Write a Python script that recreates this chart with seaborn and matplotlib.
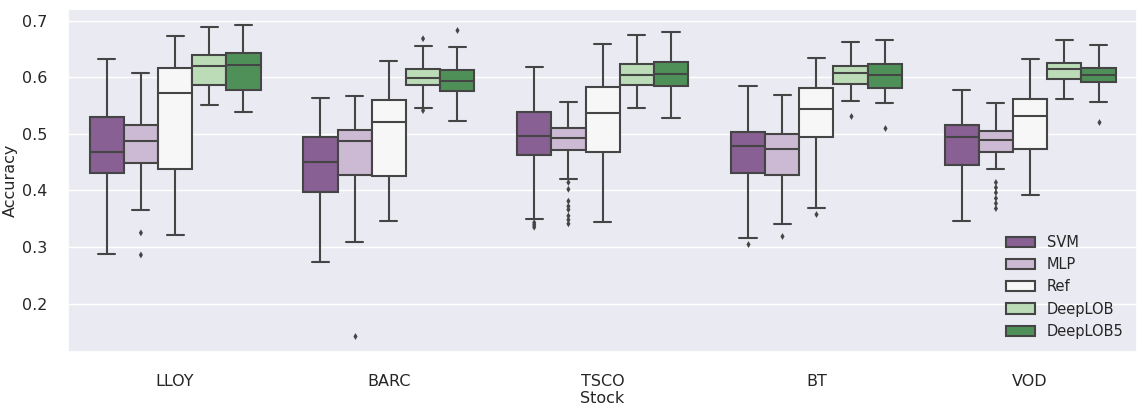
import matplotlib
matplotlib.use("Agg")
import matplotlib.pyplot as plt
import seaborn as sns
import pandas as pd

stocks = ["LLOY", "BARC", "TSCO", "BT", "VOD"]
models = ["SVM", "MLP", "Ref", "DeepLOB", "DeepLOB5"]

# per stock: [lower whisker, Q1, median, Q3, upper whisker]
svm = [[0.287, 0.430, 0.467, 0.530, 0.632],
       [0.274, 0.397, 0.450, 0.494, 0.564],
       [0.349, 0.462, 0.497, 0.538, 0.618],
       [0.316, 0.430, 0.478, 0.504, 0.584],
       [0.346, 0.445, 0.495, 0.516, 0.578]]
mlp = [[0.366, 0.449, 0.488, 0.516, 0.607],
       [0.308, 0.427, 0.487, 0.507, 0.567],
       [0.421, 0.472, 0.492, 0.511, 0.556],
       [0.340, 0.427, 0.473, 0.499, 0.568],
       [0.437, 0.468, 0.489, 0.505, 0.554]]
ref = [[0.321, 0.437, 0.572, 0.616, 0.672],
       [0.346, 0.426, 0.521, 0.559, 0.629],
       [0.344, 0.467, 0.537, 0.582, 0.658],
       [0.369, 0.495, 0.544, 0.581, 0.634],
       [0.392, 0.473, 0.532, 0.562, 0.632]]
deeplob = [[0.551, 0.587, 0.619, 0.640, 0.688],
           [0.546, 0.587, 0.599, 0.614, 0.655],
           [0.546, 0.586, 0.604, 0.623, 0.675],
           [0.558, 0.588, 0.607, 0.620, 0.663],
           [0.561, 0.597, 0.615, 0.625, 0.665]]
deeplob5 = [[0.538, 0.577, 0.621, 0.643, 0.693],
            [0.522, 0.575, 0.593, 0.613, 0.654],
            [0.528, 0.584, 0.605, 0.626, 0.679],
            [0.554, 0.581, 0.604, 0.623, 0.665],
            [0.556, 0.591, 0.604, 0.617, 0.656]]

# outliers
out_stock = (["TSCO"] * 3 + ["BT"]
             + ["LLOY"] * 2 + ["BARC"] + ["TSCO"] * 8 + ["BT"] + ["VOD"] * 6
             + ["BT"]
             + ["BARC"] * 2 + ["BT"]
             + ["BARC", "BT", "VOD"])
out_model = (["SVM"] * 4 + ["MLP"] * 18 + ["Ref"] + ["DeepLOB"] * 3 + ["DeepLOB5"] * 3)
out_value = ([0.343, 0.339, 0.335, 0.305]
             + [0.325, 0.286, 0.142,
                0.414, 0.402, 0.381, 0.372, 0.366, 0.355, 0.348, 0.341,
                0.319,
                0.414, 0.405, 0.396, 0.386, 0.377, 0.368]
             + [0.358]
             + [0.668, 0.541, 0.531]
             + [0.684, 0.510, 0.520])

rows = []
for name, stats in zip(models, [svm, mlp, ref, deeplob, deeplob5]):
    for stock, vals in zip(stocks, stats):
        for v in vals:
            rows.append((stock, name, v))
df = pd.DataFrame(rows, columns=["Stock", "Model", "Accuracy"])
out_df = pd.DataFrame({"Stock": out_stock, "Model": out_model, "Accuracy": out_value})

sns.set_theme(style="darkgrid")
fig = plt.figure(figsize=(11.37, 4.07), dpi=100)
ax = fig.add_axes([0.06, 0.135, 0.94, 0.843])

sns.boxplot(data=df, x="Stock", y="Accuracy", hue="Model", order=stocks,
            hue_order=models, palette="PRGn", whis=(0, 100), linecolor=".27",
            linewidth=1.5, ax=ax)
sns.stripplot(data=out_df, x="Stock", y="Accuracy", hue="Model", order=stocks,
              hue_order=models, palette={m: ".27" for m in models}, dodge=True,
              jitter=False, marker="d", size=3.5, legend=False, ax=ax)

ax.set_xlabel("Stock", fontsize=11.5, labelpad=1)
ax.set_ylabel("Accuracy", fontsize=11.5, labelpad=3)
ax.tick_params(axis="x", labelsize=11.5, pad=10)
ax.tick_params(axis="y", labelsize=11.5, pad=9)
ax.set_yticks([0.2, 0.3, 0.4, 0.5, 0.6, 0.7])
sns.move_legend(ax, "lower right", title=None, frameon=False, fontsize=10.5)

fig.savefig("out.png", dpi=100)
